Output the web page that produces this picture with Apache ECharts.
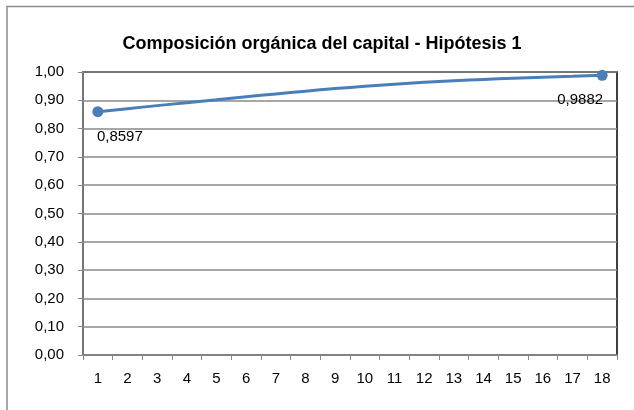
<!DOCTYPE html>
<html>
<head>
<meta charset="utf-8">
<script src="https://cdn.jsdelivr.net/npm/echarts@6/dist/echarts.min.js"></script>
<style>
  html, body { margin: 0; padding: 0; background: #fff; }
  #chart { width: 634px; height: 410px; }
</style>
</head>
<body>
<div id="chart"></div>
<script>
// periodos 1..18
var categories = ["1","2","3","4","5","6","7","8","9","10","11","12","13","14","15","16","17","18"];
// composición orgánica del capital
var values = [0.8597, 0.8705, 0.8812, 0.8917, 0.9020, 0.9124, 0.9225, 0.9322, 0.9413, 0.9496,
              0.9570, 0.9635, 0.9691, 0.9739, 0.9780, 0.9818, 0.9851, 0.9882];
var yTicks = [0, 0.1, 0.2, 0.3, 0.4, 0.5, 0.6, 0.7, 0.8, 0.9, 1.0];

var chartDom = document.getElementById("chart");
var myChart = echarts.init(chartDom);
var font = "'Liberation Sans', Arial, sans-serif";

function fmt(v, d) {
  return v.toFixed(d).replace(".", ",");
}

var last = values.length - 1;
var seriesData = values.map(function (v, i) {
  if (i === 0 || i === last) {
    return {
      value: v,
      symbol: "circle",
      symbolSize: 11,
      label: {
        show: true,
        position: "inside",
        offset: [i === 0 ? 22 : -22, 25],
        formatter: function (p) { return fmt(p.value, 4); },
        color: "#000",
        fontFamily: font,
        fontSize: 15
      }
    };
  }
  return { value: v, symbol: "none" };
});

var option = {
  animation: false,
  title: {
    text: "Composición orgánica del capital - Hipótesis 1",
    left: 322,
    textAlign: "center",
    top: 35,
    padding: 0,
    textStyle: { fontFamily: font, fontSize: 18, fontWeight: "bold", color: "#000" }
  },
  graphic: [{
    type: "rect",
    shape: { x: 7, y: 6.5, width: 700, height: 500 },
    style: { fill: null, stroke: "#8c8c8c", lineWidth: 1.5 },
    silent: true
  }],
  grid: {
    left: 83, right: 17, top: 72, bottom: 55,
    show: true, borderColor: "#000", borderWidth: 1.5
  },
  xAxis: {
    type: "category",
    data: categories,
    boundaryGap: true,
    axisLine: { lineStyle: { color: "#888", width: 1.5 } },
    axisTick: { show: true, length: 5, lineStyle: { color: "#888" } },
    axisLabel: { color: "#000", fontFamily: font, fontSize: 15, margin: 16, interval: 0 }
  },
  yAxis: {
    type: "value",
    min: yTicks[0],
    max: yTicks[yTicks.length - 1],
    interval: 0.1,
    axisLine: { show: true, lineStyle: { color: "#888", width: 1.5 } },
    axisTick: { show: true, length: 5, lineStyle: { color: "#888" } },
    splitLine: { lineStyle: { color: "#888", width: 1.5 } },
    axisLabel: {
      color: "#000", fontFamily: font, fontSize: 15, margin: 19,
      formatter: function (v) { return fmt(v, 2); }
    }
  },
  series: [{
    type: "line",
    data: seriesData,
    smooth: true,
    lineStyle: { color: "#4A7EBB", width: 3 },
    itemStyle: { color: "#4A7EBB" }
  }]
};

myChart.setOption(option);
</script>
</body>
</html>
